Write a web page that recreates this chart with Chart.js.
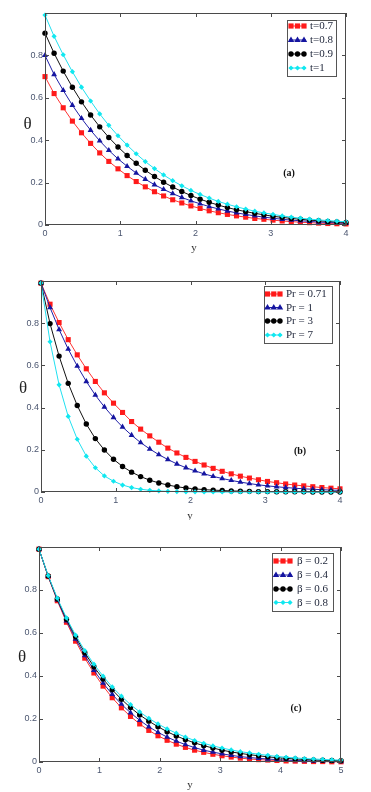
<!DOCTYPE html>
<html><head><meta charset="utf-8">
<script src="https://cdn.jsdelivr.net/npm/chart.js@4/dist/chart.umd.min.js"></script>
<style>
html,body{margin:0;padding:0;background:#fff;width:371px;height:792px;overflow:hidden}
.p{position:absolute;left:0}
canvas{display:block}
</style></head><body>
<div class="p" style="top:0"><canvas id="ca" width="371" height="260"></canvas></div>
<div class="p" style="top:260px"><canvas id="cb" width="371" height="260"></canvas></div>
<div class="p" style="top:520px"><canvas id="cc" width="371" height="272"></canvas></div>
<script>
// ---- data ----
const xA = [0,0.121,0.242,0.364,0.485,0.606,0.727,0.848,0.970,1.091,1.212,1.333,1.455,1.576,1.697,1.818,1.939,2.061,2.182,2.303,2.424,2.545,2.667,2.788,2.909,3.030,3.152,3.273,3.394,3.515,3.636,3.758,3.879,4.0];
const xC = [0,0.152,0.303,0.455,0.606,0.758,0.909,1.061,1.212,1.364,1.515,1.667,1.818,1.970,2.121,2.273,2.424,2.576,2.727,2.879,3.030,3.182,3.333,3.485,3.636,3.788,3.939,4.091,4.242,4.394,4.545,4.697,4.848,5.0];

const tA07 = [0.70,0.62,0.553,0.49,0.435,0.385,0.34,0.30,0.265,0.233,0.205,0.18,0.157,0.137,0.119,0.104,0.09,0.078,0.067,0.058,0.05,0.043,0.037,0.031,0.027,0.023,0.019,0.016,0.013,0.011,0.009,0.007,0.006,0.005];
const tA08 = [0.80,0.71,0.635,0.565,0.503,0.447,0.397,0.352,0.312,0.277,0.245,0.216,0.19,0.168,0.148,0.13,0.114,0.1,0.087,0.076,0.066,0.057,0.05,0.043,0.037,0.032,0.027,0.023,0.02,0.017,0.014,0.012,0.01,0.008];
const tA09 = [0.905,0.81,0.726,0.65,0.581,0.519,0.463,0.413,0.368,0.328,0.291,0.258,0.229,0.202,0.179,0.158,0.139,0.122,0.107,0.094,0.082,0.072,0.063,0.055,0.048,0.041,0.036,0.031,0.027,0.023,0.02,0.017,0.014,0.012];
const tA10 = [0.99,0.89,0.803,0.723,0.65,0.585,0.524,0.47,0.421,0.377,0.336,0.299,0.266,0.236,0.209,0.185,0.163,0.144,0.127,0.111,0.098,0.086,0.075,0.065,0.057,0.05,0.043,0.037,0.032,0.028,0.024,0.021,0.018,0.015];

const pr071 = [0.99,0.89,0.803,0.722,0.65,0.584,0.524,0.47,0.421,0.377,0.334,0.298,0.266,0.236,0.208,0.185,0.164,0.145,0.128,0.112,0.098,0.086,0.075,0.066,0.058,0.05,0.044,0.038,0.033,0.029,0.025,0.021,0.018,0.015];
const pr1 = [0.99,0.874,0.77,0.677,0.597,0.524,0.459,0.403,0.353,0.308,0.269,0.234,0.204,0.177,0.154,0.133,0.115,0.1,0.086,0.074,0.064,0.055,0.047,0.04,0.034,0.029,0.025,0.021,0.018,0.015,0.013,0.011,0.009,0.008];
const pr3 = [0.99,0.798,0.644,0.515,0.41,0.322,0.253,0.199,0.155,0.121,0.094,0.073,0.056,0.043,0.033,0.025,0.019,0.015,0.011,0.009,0.007,0.005,0.004,0.003,0.002,0.002,0.001,0.001,0.001,0.001,0,0,0,0];
const pr7 = [0.99,0.712,0.508,0.358,0.25,0.17,0.115,0.076,0.051,0.033,0.021,0.013,0.008,0.005,0.003,0.002,0.001,0.001,0,0,0,0,0,0,0,0,0,0,0,0,0,0,0,0];

const b02 = [0.99,0.862,0.75,0.65,0.562,0.483,0.414,0.353,0.299,0.252,0.212,0.177,0.147,0.122,0.101,0.083,0.068,0.055,0.045,0.036,0.029,0.023,0.018,0.014,0.011,0.009,0.007,0.005,0.004,0.003,0.002,0.002,0.001,0.001];
const b04 = [0.99,0.864,0.754,0.657,0.572,0.495,0.427,0.367,0.315,0.269,0.229,0.194,0.164,0.138,0.116,0.097,0.081,0.067,0.055,0.046,0.038,0.031,0.025,0.021,0.017,0.014,0.011,0.009,0.007,0.006,0.005,0.004,0.003,0.002];
const b06 = [0.99,0.865,0.758,0.664,0.582,0.508,0.443,0.386,0.336,0.292,0.253,0.219,0.19,0.164,0.141,0.121,0.104,0.089,0.076,0.065,0.055,0.047,0.04,0.034,0.029,0.024,0.02,0.017,0.014,0.012,0.01,0.008,0.007,0.006];
const b08 = [0.99,0.867,0.762,0.67,0.59,0.518,0.455,0.399,0.349,0.306,0.267,0.233,0.203,0.177,0.154,0.134,0.116,0.1,0.087,0.075,0.065,0.056,0.048,0.042,0.036,0.031,0.026,0.022,0.019,0.016,0.014,0.012,0.01,0.009];

const namesA = ['t=0.7','t=0.8','t=0.9','t=1'];
const namesB = ['Pr = 0.71','Pr = 1','Pr = 3','Pr = 7'];
const namesC = ['\u03B2 = 0.2','\u03B2 = 0.4','\u03B2 = 0.6','\u03B2 = 0.8'];
const xTicksAB = [0,1,2,3,4];
const xTicksC = [0,1,2,3,4,5];
const yTicks = [0,0.2,0.4,0.6,0.8];
const yTickLabels = ['0','0.2','0.4','0.6','0.8'];
const panelLabels = ['(a)','(b)','(c)'];

// ---- styles ----
const STY = [
  {color:'#ff1a1a', line:'#ff3333', shape:'rect', r:3.6},
  {color:'#1515a0', line:'#2020a8', shape:'triangle', r:3.4},
  {color:'#000000', line:'#111111', shape:'circle', r:2.7},
  {color:'#10e8f0', line:'#20e0f0', shape:'rectRot', r:2.6}
];

function drawMarker(ctx, shape, x, y, r, color){
  ctx.save(); ctx.fillStyle=color; ctx.beginPath();
  if(shape==='rect'){ const s=r*0.72; ctx.rect(x-s,y-s,2*s,2*s); }
  else if(shape==='triangle'){ ctx.moveTo(x,y-r); ctx.lineTo(x+r*0.95,y+r*0.6); ctx.lineTo(x-r*0.95,y+r*0.6); ctx.closePath(); }
  else if(shape==='circle'){ ctx.arc(x,y,r,0,Math.PI*2); }
  else { ctx.moveTo(x,y-r); ctx.lineTo(x+r,y); ctx.lineTo(x,y+r); ctx.lineTo(x-r,y); ctx.closePath(); }
  ctx.fill(); ctx.restore();
}

const framePlugin = {
  id:'frame',
  afterDraw(chart, args, o){
    const ctx=chart.ctx, a=chart.chartArea, xs=chart.scales.x, ys=chart.scales.y;
    ctx.save();
    ctx.strokeStyle='#4a4a4a'; ctx.lineWidth=1;
    ctx.strokeRect(Math.round(a.left)+0.5, Math.round(a.top)+0.5, Math.round(a.right-a.left)-1, Math.round(a.bottom-a.top)-1);
    ctx.beginPath();
    o.xTicks.forEach(v=>{ const px=Math.round(xs.getPixelForValue(v))+0.5;
      ctx.moveTo(px,a.top); ctx.lineTo(px,a.top+4); ctx.moveTo(px,a.bottom); ctx.lineTo(px,a.bottom-4); });
    yTicks.forEach(v=>{ const py=Math.round(ys.getPixelForValue(v))+0.5;
      ctx.moveTo(a.left,py); ctx.lineTo(a.left+4,py); ctx.moveTo(a.right,py); ctx.lineTo(a.right-4,py); });
    ctx.stroke();
    // legend
    const L=o.legend;
    ctx.fillStyle='#fff'; ctx.fillRect(L.x,L.y,L.w,L.h);
    ctx.strokeStyle='#555'; ctx.strokeRect(L.x+0.5,L.y+0.5,L.w,L.h);
    ctx.font='11px "Liberation Serif", "Times New Roman", serif';
    ctx.textBaseline='middle'; ctx.textAlign='left';
    o.names.forEach((n,i)=>{
      const yy=L.rows[i], s=STY[i];
      ctx.strokeStyle=s.line; ctx.lineWidth=1;
      ctx.beginPath(); ctx.moveTo(L.s1,yy); ctx.lineTo(L.s2,yy); ctx.stroke();
      [L.s1+2,(L.s1+L.s2)/2,L.s2-2].forEach(mx=>drawMarker(ctx,s.shape,mx,yy,s.r,s.color));
      ctx.fillStyle='#1d2438'; ctx.fillText(n,L.tx,yy+0.5);
    });
    // labels
    ctx.fillStyle='#111'; ctx.textAlign='center';
    ctx.font='bold 10px "Liberation Serif", serif';
    ctx.fillText(o.label,o.lx,o.ly);
    ctx.font='17px "Liberation Serif", serif';
    ctx.fillStyle='#222';
    ctx.fillText('\u03B8',o.tx,o.ty);
    ctx.font='11px "Liberation Serif", serif';
    ctx.fillStyle='#333';
    ctx.fillText('y',o.yx,o.yy);
    ctx.restore();
  }
};

function makeChart(id, xs, series, names, xTicks, xMax, geo, extra){
  const datasets = series.map((arr,i)=>({
    data: arr.map((v,j)=>({x:xs[j], y:v})),
    borderColor: STY[i].line, backgroundColor: STY[i].color,
    borderWidth:1, pointStyle: STY[i].shape, pointRadius: STY[i].shape==='rect'?3.6:STY[i].r,
    pointBorderWidth:0, pointBackgroundColor: STY[i].color,
    tension:0, clip:false, order: 3-i
  }));
  const tickFont = {family:'"Liberation Sans", Arial, sans-serif', size:9};
  new Chart(document.getElementById(id), {
    type:'line',
    data:{datasets},
    plugins:[framePlugin],
    options:{
      responsive:false, animation:false, devicePixelRatio:1,
      layout:{padding:{left:0, top:geo.top, right:geo.right, bottom:0}},
      plugins:{legend:{display:false}, tooltip:{enabled:false},
        frame:Object.assign({xTicks, names}, extra)},
      scales:{
        x:{type:'linear', min:0, max:xMax,
          grid:{display:false, drawTicks:false}, border:{display:false},
          afterBuildTicks:s=>{ s.ticks = xTicks.map(v=>({value:v})); },
          ticks:{padding:3, font:tickFont, color:'#4b5670', maxRotation:0, callback:(v,i)=>String(xTicks[i])},
          afterFit:s=>{ s.height = geo.xh; }},
        y:{type:'linear', min:0, max:1,
          grid:{display:false, drawTicks:false}, border:{display:false},
          afterBuildTicks:s=>{ s.ticks = yTicks.map(v=>({value:v})); },
          ticks:{padding:2, font:tickFont, color:'#4b5670', callback:(v,i)=>yTickLabels[i]},
          afterFit:s=>{ s.width = geo.yw; }}
      }
    }
  });
}

makeChart('ca', xA, [tA07,tA08,tA09,tA10], namesA, xTicksAB, 4,
  {top:13, right:25, xh:35, yw:45},
  {label:panelLabels[0], lx:289, ly:173, tx:27.5, ty:125, yx:194, yy:248,
   legend:{x:287, y:20, w:49, h:56, rows:[26,40,54,68], s1:289, s2:306, tx:310}});

makeChart('cb', xA, [pr071,pr1,pr3,pr7], namesB, xTicksAB, 4,
  {top:21, right:31, xh:28, yw:41},
  {label:panelLabels[1], lx:300, ly:191, tx:23, ty:129, yx:190, yy:256,
   legend:{x:264, y:26, w:68, h:57, rows:[34,47.5,61,75], s1:265.5, s2:282, tx:286}});

makeChart('cc', xC, [b02,b04,b06,b08], namesC, xTicksC, 5,
  {top:27, right:30, xh:30, yw:39},
  {label:panelLabels[2], lx:296, ly:188, tx:22, ty:138, yx:190, yy:265,
   legend:{x:272, y:33, w:61, h:58, rows:[41,55,69,82.5], s1:274, s2:292, tx:297}});
</script>
</body></html>
